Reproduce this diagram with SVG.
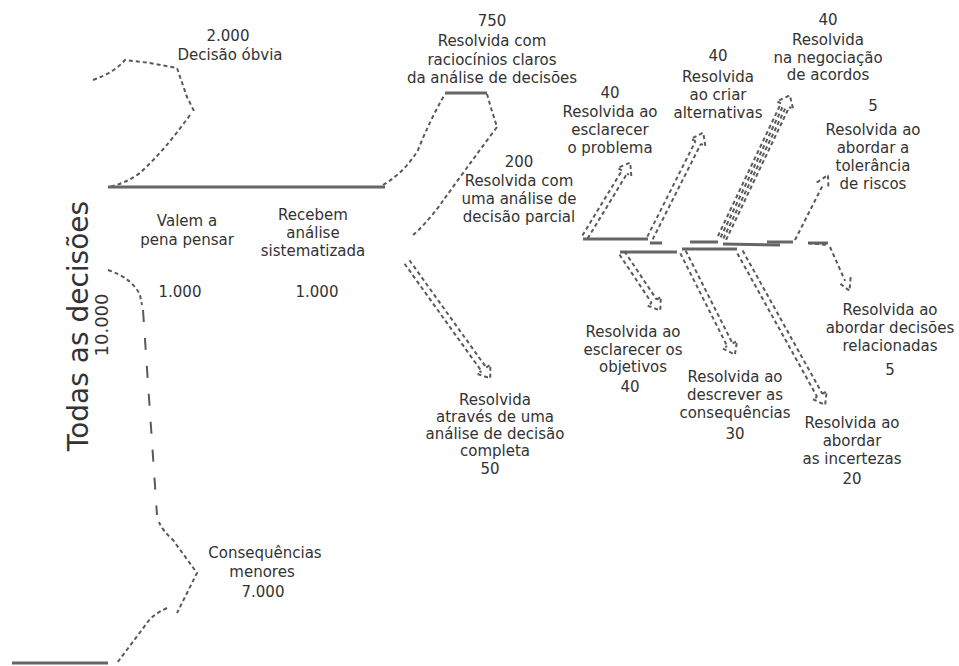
<svg xmlns="http://www.w3.org/2000/svg" width="959" height="666" viewBox="0 0 959 666">
<style>
text{font-family:"DejaVu Sans","Liberation Sans",sans-serif;font-size:15px;fill:#333;text-anchor:middle}
.big{font-size:28px}
.mid{font-size:18px}
.d{fill:none;stroke:#5a5a5a;stroke-width:2;stroke-dasharray:4 3}
.dl{fill:none;stroke:#5a5a5a;stroke-width:2;stroke-dasharray:12 16}
.s{fill:none;stroke:#666;stroke-width:3}
</style>
<rect width="959" height="666" fill="#fff"/>
<g id="connectors">
  <!-- 2000 branch -->
  <path class="d" d="M93,80 Q115,72 125,60 L150,63 L177,68 L187,97 L195,113"/>
  <path class="d" d="M190,115 Q165,150 140,173 Q125,184 108,187"/>
  <line class="s" x1="108" y1="187" x2="385" y2="187"/>
  <!-- 750 band -->
  <path class="d" d="M383,185 Q405,172 418,150 Q430,120 445,94"/>
  <line class="s" x1="445" y1="93" x2="487" y2="93"/>
  <path class="d" d="M487,94 L491,108 L497,127"/>
  <path class="d" d="M497,127 Q465,170 440,205 Q425,225 412,236"/>
  <!-- 1000 / 7000 branch -->
  <path class="d" d="M108,270 Q132,278 140,295 L142,305"/>
  <path class="dl" d="M143,310 L157,515"/>
  <path class="d" d="M159,522 Q162,530 173,540 L197,573 L177,613"/>
  <path class="d" d="M167,608 Q152,615 147,623 L117,663"/>
  <line class="s" x1="12" y1="663" x2="108" y2="663"/>
  <!-- 200 band splits -->
  <line class="s" x1="583" y1="239" x2="648" y2="239"/>
  <line class="s" x1="650" y1="243" x2="662" y2="243"/>
  <line class="s" x1="690" y1="242" x2="718" y2="242"/>
  <line class="s" x1="723" y1="244" x2="780" y2="245"/>
  <line class="s" x1="767" y1="242" x2="793" y2="242"/>
  <line class="s" x1="808" y1="243" x2="828" y2="243"/>
  <line class="s" x1="620" y1="252" x2="677" y2="252"/>
  <line class="s" x1="682" y1="249" x2="737" y2="249"/>
  <!-- double arrows -->
  <g transform="translate(407,262) rotate(54.4)">
    <path class="d" d="M0,-3 L132,-3 M0,3 L132,3 M132,-3 L132,-8 L143,0 L132,8 L132,3"/>
  </g>
  <g transform="translate(585,237) rotate(-58.7)">
    <path class="d" d="M0,-3 L76,-3 M0,3 L76,3 M76,-3 L76,-8 L87,0 L76,8 L76,3"/>
  </g>
  <g transform="translate(650,238) rotate(-63.2)">
    <path class="d" d="M0,-3 L107,-3 M0,3 L107,3 M107,-3 L107,-8 L118,0 L107,8 L107,3"/>
  </g>
  <g transform="translate(722,238) rotate(-64.6)">
    <path class="d" d="M0,-4.5 L147,-4.5 M0,-1.5 L147,-1.5 M0,1.5 L147,1.5 M0,4.5 L147,4.5 M147,-4.5 L147,-9 L158,0 L147,9 L147,4.5"/>
  </g>
  <g transform="translate(795,240) rotate(-63.1)">
    <path class="d" d="M0,0 L62,0 M62,-5 L62,-6 L73,0 L62,6 L62,5"/>
  </g>
  <g transform="translate(622,253) rotate(56.3)">
    <path class="d" d="M0,-3 L58,-3 M0,3 L58,3 M58,-3 L58,-8 L69,0 L58,8 L58,3"/>
  </g>
  <g transform="translate(683,252) rotate(63.2)">
    <path class="d" d="M0,-3 L104,-3 M0,3 L104,3 M104,-3 L104,-8 L115,0 L104,8 L104,3"/>
  </g>
  <g transform="translate(740,252) rotate(60.9)">
    <path class="d" d="M0,-3 L164,-3 M0,3 L164,3 M164,-3 L164,-8 L175,0 L164,8 L164,3"/>
  </g>
  <path class="d" d="M808,243 L828,245"/>
  <g transform="translate(830,247) rotate(66)">
    <path class="d" d="M0,0 L37,0 M37,-5 L37,-6 L48,0 L37,6 L37,5"/>
  </g>
</g>
<g id="n-todas">
  <text class="big" transform="translate(88,326) rotate(-90)">Todas as decisões</text>
  <text class="mid" transform="translate(108,325) rotate(-90)">10.000</text>
</g>
<g id="n-obvia">
  <text x="228" y="41">2.000</text>
  <text x="230" y="60">Decisão óbvia</text>
</g>
<g id="n-valem">
  <text x="187" y="226">Valem a</text>
  <text x="187" y="245">pena pensar</text>
  <text x="180" y="297">1.000</text>
</g>
<g id="n-recebem">
  <text x="313" y="220">Recebem</text>
  <text x="313" y="238">análise</text>
  <text x="313" y="256">sistematizada</text>
  <text x="317" y="297">1.000</text>
</g>
<g id="n-750">
  <text x="492" y="26">750</text>
  <text x="492" y="46">Resolvida com</text>
  <text x="492" y="65">raciocínios claros</text>
  <text x="492" y="83">da análise de decisões</text>
</g>
<g id="n-200">
  <text x="519" y="167">200</text>
  <text x="519" y="186">Resolvida com</text>
  <text x="519" y="204">uma análise de</text>
  <text x="519" y="222">decisão parcial</text>
</g>
<g id="n-problema">
  <text x="610" y="98">40</text>
  <text x="610" y="117">Resolvida ao</text>
  <text x="610" y="135">esclarecer</text>
  <text x="610" y="153">o problema</text>
</g>
<g id="n-alternativas">
  <text x="718" y="61">40</text>
  <text x="718" y="82">Resolvida</text>
  <text x="718" y="100">ao criar</text>
  <text x="718" y="118">alternativas</text>
</g>
<g id="n-acordos">
  <text x="828" y="25">40</text>
  <text x="828" y="45">Resolvida</text>
  <text x="828" y="63">na negociação</text>
  <text x="828" y="80">de acordos</text>
</g>
<g id="n-riscos">
  <text x="873" y="111">5</text>
  <text x="873" y="135">Resolvida ao</text>
  <text x="873" y="153">abordar a</text>
  <text x="873" y="171">tolerância</text>
  <text x="873" y="189">de riscos</text>
</g>
<g id="n-relacionadas">
  <text x="890" y="315">Resolvida ao</text>
  <text x="890" y="333">abordar decisões</text>
  <text x="890" y="351">relacionadas</text>
  <text x="890" y="375">5</text>
</g>
<g id="n-incertezas">
  <text x="852" y="428">Resolvida ao</text>
  <text x="852" y="446">abordar</text>
  <text x="852" y="464">as incertezas</text>
  <text x="852" y="484">20</text>
</g>
<g id="n-consequencias">
  <text x="735" y="382">Resolvida ao</text>
  <text x="735" y="400">descrever as</text>
  <text x="735" y="418">consequências</text>
  <text x="735" y="439">30</text>
</g>
<g id="n-objetivos">
  <text x="633" y="337">Resolvida ao</text>
  <text x="633" y="355">esclarecer os</text>
  <text x="633" y="372">objetivos</text>
  <text x="630" y="392">40</text>
</g>
<g id="n-completa">
  <text x="495" y="405">Resolvida</text>
  <text x="495" y="422">através de uma</text>
  <text x="495" y="439">análise de decisão</text>
  <text x="495" y="456">completa</text>
  <text x="490" y="474">50</text>
</g>
<g id="n-menores">
  <text x="265" y="558">Consequências</text>
  <text x="262" y="577">menores</text>
  <text x="263" y="597">7.000</text>
</g>
</svg>
